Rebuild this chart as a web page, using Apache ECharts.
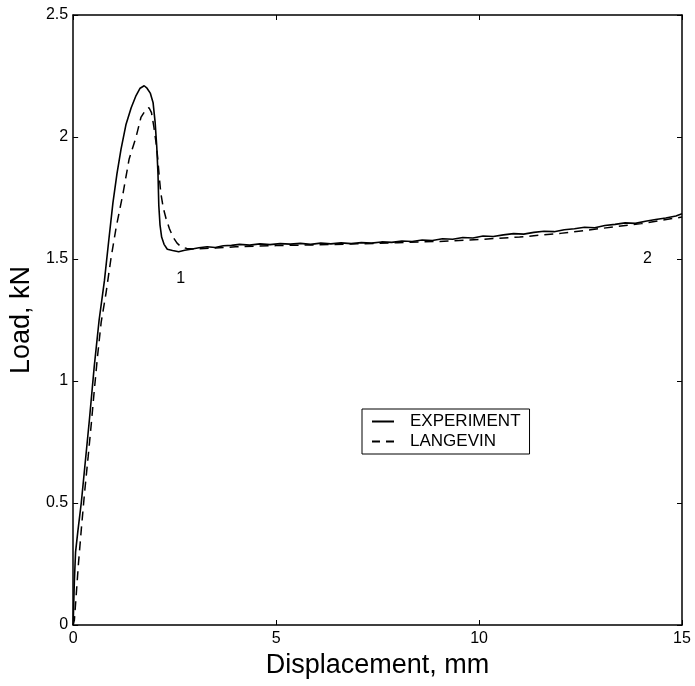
<!DOCTYPE html>
<html><head><meta charset="utf-8">
<script src="https://cdn.jsdelivr.net/npm/echarts@6/dist/echarts.min.js"></script>
<style>html,body{margin:0;padding:0;background:#fff}#c{width:695px;height:686px}</style>
</head><body><div id="c"></div>
<script>
// Experiment (solid)
const expX = [0,0.03,0.06,0.12,0.2,0.3,0.4,0.52,0.64,0.77,0.88,0.98,1.08,1.18,1.3,1.43,1.55,1.65,1.75,1.82,1.9,1.97,2.02,2.06,2.09,2.11,2.14,2.18,2.24,2.32,2.45,2.6,2.75,2.9,3.1,3.3,3.5,3.7,3.9,4.1,4.35,4.6,4.85,5.1,5.35,5.6,5.85,6.1,6.35,6.6,6.85,7.1,7.35,7.6,7.85,8.1,8.35,8.6,8.85,9.1,9.35,9.6,9.85,10.1,10.35,10.6,10.85,11.1,11.35,11.6,11.85,12.1,12.35,12.6,12.85,13.1,13.35,13.6,13.85,14.1,14.35,14.6,14.85,15];
const expY = [0,0.18,0.3,0.39,0.5,0.67,0.84,1.06,1.25,1.41,1.58,1.73,1.85,1.95,2.05,2.12,2.17,2.2,2.21,2.2,2.18,2.14,2.06,1.96,1.85,1.72,1.64,1.59,1.56,1.54,1.535,1.53,1.536,1.54,1.546,1.55,1.547,1.554,1.556,1.56,1.557,1.562,1.559,1.563,1.561,1.564,1.56,1.565,1.562,1.566,1.563,1.567,1.565,1.57,1.568,1.574,1.572,1.578,1.576,1.583,1.581,1.588,1.586,1.594,1.592,1.599,1.604,1.602,1.609,1.614,1.612,1.62,1.624,1.63,1.628,1.637,1.642,1.648,1.646,1.655,1.662,1.668,1.676,1.685,1.69,1.697,1.706,1.715];
// Langevin (dashed)
const lanX = [0,0.03,0.07,0.13,0.2,0.28,0.37,0.45,0.52,0.6,0.69,0.81,0.93,1.06,1.23,1.38,1.55,1.67,1.8,1.87,1.93,1.99,2.04,2.08,2.12,2.16,2.22,2.29,2.37,2.46,2.56,2.66,2.8,3.0,3.5,4,5,6,7,8,9,10,11,12,13,14,15];
const lanY = [0,0.02,0.11,0.25,0.39,0.54,0.69,0.83,0.96,1.1,1.24,1.36,1.5,1.63,1.77,1.91,2.0,2.08,2.115,2.12,2.1,2.04,1.98,1.92,1.84,1.77,1.71,1.665,1.625,1.59,1.565,1.55,1.543,1.541,1.545,1.55,1.555,1.558,1.562,1.567,1.572,1.58,1.59,1.605,1.625,1.645,1.672];
const xTicks = [0,5,10,15];
const yTicks = [0,0.5,1,1.5,2,2.5];
const notes = [[2.65,1.42,'1'],[14.15,1.5,'2']];
const seriesNames = ['EXPERIMENT','LANGEVIN'];

const zip = (a,b)=>a.map((v,i)=>[v,b[i]]);
const F = 'Liberation Sans, Arial, sans-serif';
const chart = echarts.init(document.getElementById('c'));
const axisCommon = () => ({
  axisLine:{show:true,onZero:false,lineStyle:{color:'#000',width:1.5}},
  axisTick:{show:true,inside:true,length:5,lineStyle:{color:'#000',width:1}},
  splitLine:{show:false}
});
chart.setOption({
  animation:false,
  backgroundColor:'#fff',
  grid:{left:72,right:13,top:15,bottom:61,containLabel:false},
  xAxis:[
    Object.assign({type:'value',min:0,max:15,interval:5,position:'bottom',
      name:'Displacement, mm',nameLocation:'middle',nameGap:26,
      nameTextStyle:{fontFamily:F,fontSize:27,color:'#000'},
      axisLabel:{fontFamily:F,fontSize:16,color:'#000',margin:6}},axisCommon()),
    Object.assign({type:'value',min:0,max:15,interval:5,position:'top',axisLabel:{show:false}},axisCommon())
  ],
  yAxis:[
    Object.assign({type:'value',min:0,max:2.5,interval:0.5,position:'left',
      name:'Load, kN',nameLocation:'middle',nameGap:37,
      nameTextStyle:{fontFamily:F,fontSize:27,color:'#000'},
      axisLabel:{fontFamily:F,fontSize:16,color:'#000',margin:5}},axisCommon()),
    Object.assign({type:'value',min:0,max:2.5,interval:0.5,position:'right',axisLabel:{show:false}},axisCommon())
  ],
  legend:{
    show:true,orient:'vertical',left:362,top:409,
    data:[
      {name:seriesNames[0],icon:'path://M0,0H22V2H0Z'},
      {name:seriesNames[1],icon:'path://M0,0H8V2H0ZM14,0H22V2H14Z'}
    ],
    borderColor:'#000',borderWidth:1,borderRadius:0,backgroundColor:'#fff',
    padding:[4,9,4,10],itemGap:3,itemWidth:22,itemHeight:2,
    itemStyle:{color:'#000',borderWidth:0},
    textStyle:{fontFamily:F,fontSize:17,color:'#000',padding:[0,0,0,11]}
  },
  series:[
    {name:seriesNames[0],type:'line',data:zip(expX,expY),showSymbol:false,symbol:'none',
     lineStyle:{color:'#000',width:1.6,type:'solid'},itemStyle:{color:'#000'},z:3},
    {name:seriesNames[1],type:'line',data:zip(lanX,lanY),showSymbol:false,symbol:'none',smooth:false,
     lineStyle:{color:'#000',width:1.5,type:[9,6]},itemStyle:{color:'#000'},z:2},
    {type:'scatter',data:notes,symbolSize:0,silent:true,itemStyle:{color:'#000',opacity:1},
     label:{show:true,position:'inside',opacity:1,formatter:p=>p.data[2],fontFamily:F,fontSize:16,color:'#000',textBorderWidth:0}}
  ]
});
</script></body></html>
